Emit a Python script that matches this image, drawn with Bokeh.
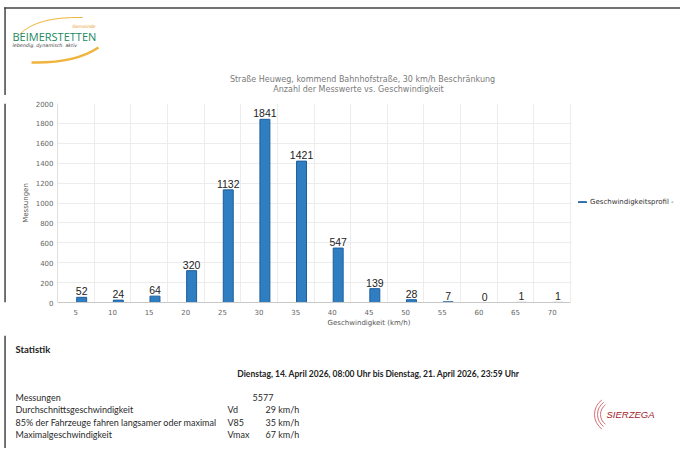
from bokeh.plotting import figure
from bokeh.layouts import column, row
from bokeh.models import (ColumnDataSource, FixedTicker, Legend, LegendItem,
                          Range1d, BoxAnnotation)
from bokeh.core.properties import value
from bokeh.transform import dodge
from bokeh.embed import file_html
from bokeh.resources import INLINE

# ---------------- data ----------------
speeds = [5, 10, 15, 20, 25, 30, 35, 40, 45, 50, 55, 60, 65, 70]
counts = [52, 24, 64, 320, 1132, 1841, 1421, 547, 139, 28, 7, 0, 1, 1]
y_ticks = [0, 200, 400, 600, 800, 1000, 1200, 1400, 1600, 1800, 2000]
series_name = "Geschwindigkeitsprofil -"
title_lines = ["Straße Heuweg, kommend Bahnhofstraße, 30 km/h Beschränkung",
               "Anzahl der Messwerte vs. Geschwindigkeit"]
x_label = "Geschwindigkeit (km/h)"
y_label = "Messungen"
period = "Dienstag, 14. April 2026, 08:00 Uhr bis Dienstag, 21. April 2026, 23:59 Uhr"
stat_names = ["Messungen", "Durchschnittsgeschwindigkeit",
              "85% der Fahrzeuge fahren langsamer oder maximal", "Maximalgeschwindigkeit"]
stat_symbols = ["", "Vd", "V85", "Vmax"]
stat_values = ["5577", "29 km/h", "35 km/h", "67 km/h"]

# ---------------- layout (page pixels) ----------------
W = 680
TOP_H = 95               # page 0..95   : logo + title
CH_Y0, CH_Y1 = 95, 335   # chart band
ST_Y1 = 448              # stats band 335..448
STRIP = 18               # left strip holding the page border line
FL, FR, FT, FB = 57, 570, 103, 302   # plot frame in page pixels
BORDER = "#444444"


def blank(width, height, x0, x1, y0, y1):
    f = figure(width=width, height=height, output_backend="svg", toolbar_location=None,
               x_range=Range1d(x0, x1), y_range=Range1d(y1, y0),
               x_axis_location=None, y_axis_location=None, min_border=0)
    f.grid.visible = False
    f.outline_line_color = None
    f.background_fill_color = "white"
    f.border_fill_color = "white"
    return f


def vborder(f, y0, y1):
    f.quad(left=[3.8], right=[5.3], bottom=[y0], top=[y1], fill_color=BORDER,
           line_color=None)


def txt(f, text, x, y, size, color="#333333", font="DejaVu Sans", style="normal",
        align="left"):
    f.text(x=[x], y=[y], text=[text], text_font=value(font), text_font_size=value(f"{size}px"),
           text_color=color, text_font_style=style, text_align=align, text_baseline="middle")


# ---------- top band: logo + title ----------
top = blank(W, TOP_H, 0, W, 0, TOP_H)
top.quad(left=[3.8], right=[W], bottom=[6.8], top=[8.3], fill_color=BORDER, line_color=None)
vborder(top, 6.8, TOP_H)
top.quadratic(x0=[19], y0=[34], x1=[82], y1=[17], cx=[36], cy=[16],
              line_color="#f0b43c", line_width=1.0)
top.quadratic(x0=[31], y0=[62], x1=[98], y1=[47], cx=[74], cy=[63],
              line_color="#f0b43c", line_width=2.4)
txt(top, "Gemeinde", 72, 26, 4.5, color="#e8a030", style="italic")
txt(top, "BEIMERSTETTEN", 12, 36, 11, color="#23895e", font="Open Sans")
txt(top, "lebendig. dynamisch. aktiv", 12, 45, 4.8, color="#444444", style="italic")
txt(top, title_lines[0], 362, 79, 8, color="#7a7a7a", align="center")
txt(top, title_lines[1], 358, 89, 8, color="#7a7a7a", align="center")

# ---------- chart band ----------
strip = blank(STRIP, CH_Y1 - CH_Y0, 0, STRIP, CH_Y0, CH_Y1)
vborder(strip, CH_Y0, CH_Y1)

x_start, x_end_cat = 2.5, 72.5
x_end = x_start + (W - FL) * (x_end_cat - x_start) / (FR - FL)

p = figure(width=W - STRIP, height=CH_Y1 - CH_Y0, output_backend="svg", toolbar_location=None,
           x_range=Range1d(x_start, x_end), y_range=Range1d(0, 2000),
           min_border_left=FL - STRIP, min_border_right=0,
           min_border_top=FT - CH_Y0, min_border_bottom=CH_Y1 - FB)
p.outline_line_color = None

src = ColumnDataSource(dict(speed=speeds, count=counts, label=[str(c) for c in counts]))

p.xaxis.ticker = FixedTicker(ticks=speeds)
p.yaxis.ticker = FixedTicker(ticks=y_ticks)
for ax in (p.xaxis[0], p.yaxis[0]):
    ax.major_label_text_font = "DejaVu Sans"
    ax.major_label_text_font_size = "7px"
    ax.major_label_text_color = "#666666"
    ax.axis_label_text_font = "DejaVu Sans"
    ax.axis_label_text_font_size = "7px"
    ax.axis_label_text_font_style = "normal"
    ax.axis_label_text_color = "#555555"
    ax.major_tick_line_color = None
    ax.minor_tick_line_color = None
    ax.major_tick_out = 0
    ax.major_tick_in = 0
p.xaxis.axis_label = x_label
p.yaxis.axis_label = y_label
p.xaxis.bounds = (x_start, x_end_cat)
p.xaxis.axis_line_color = "#c8c8c8"
p.yaxis.axis_line_color = "#e0e0e0"
p.xaxis.major_label_standoff = 6
p.yaxis.major_label_standoff = 4
p.xaxis.axis_label_standoff = 1
p.yaxis.axis_label_standoff = 3

p.xgrid.ticker = FixedTicker(ticks=[s + 2.5 for s in speeds])
p.ygrid.ticker = FixedTicker(ticks=y_ticks)
p.xgrid.grid_line_color = "#ececec"
p.ygrid.grid_line_color = "#ececec"

# white area right of the plot (legend zone)
p.add_layout(BoxAnnotation(left=x_end_cat + 0.15, fill_color="white", fill_alpha=1.0,
                           line_color=None))

r = p.vbar(x=dodge("speed", 0.8, range=p.x_range), top="count", width=1.36, bottom=0,
           source=src, fill_color="#2f7ec2", line_color="#1f5d9a", line_width=1)
p.text(x=dodge("speed", 0.8, range=p.x_range), y="count", text="label", source=src,
       text_align="center", text_baseline="bottom", y_offset=-2,
       text_font_size=value("10.5px"), text_color="#222222", text_font=value("Liberation Sans"))

legend = Legend(items=[LegendItem(label=series_name, renderers=[r])],
                location=(577 - FL, FB - 202 - 5), orientation="vertical")
legend.glyph_width = 10
legend.glyph_height = 2
legend.label_height = 10
legend.label_standoff = 3
legend.padding = 0
legend.margin = 0
legend.border_line_color = None
legend.background_fill_alpha = 0
legend.label_text_font = "DejaVu Sans"
legend.label_text_font_size = "7px"
legend.label_text_color = "#333333"
p.add_layout(legend)

# ---------- statistics band ----------
st = blank(W, ST_Y1 - CH_Y1, 0, W, CH_Y1, ST_Y1)
vborder(st, CH_Y1, ST_Y1)
txt(st, "Statistik", 15, 349, 9.5, color="#222222", font="Lato", style="bold")
txt(st, period, 378, 373, 8.5, color="#222222", font="Lato", style="bold", align="center")
row_y = [397, 409, 422, 434]
for name, sym, val, yy in zip(stat_names, stat_symbols, stat_values, row_y):
    txt(st, name, 15, yy, 9, color="#2a2a2a", font="Lato")
    if sym:
        txt(st, sym, 227, yy, 9, color="#2a2a2a", font="Lato")
        txt(st, val, 265, yy, 9, color="#2a2a2a", font="Lato")
    else:
        txt(st, val, 252, yy, 9, color="#2a2a2a", font="Lato")

# Sierzega logo
st.arc(x=[612, 612, 612], y=[414, 414, 414], radius=[18, 15, 12],
       start_angle=2.2, end_angle=4.08, line_color="#d07078", line_width=1)
txt(st, "SIERZEGA", 606, 414, 9.5, color="#9e1b2a", font="Liberation Sans", style="italic")

layout = column(top, row(strip, p), st, spacing=0)

with open("out.html", "w", encoding="utf-8") as fh:
    fh.write(file_html(layout, INLINE))
